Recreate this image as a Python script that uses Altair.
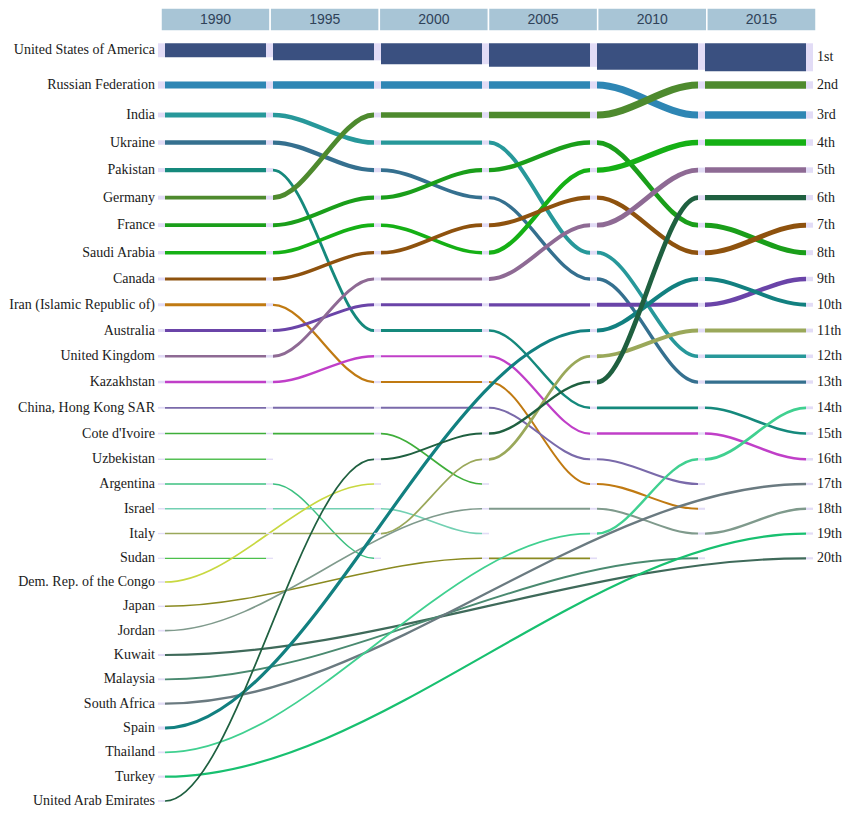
import altair as alt
import pandas as pd

years = ["1990", "1995", "2000", "2005", "2010", "2015"]

rank_1990 = ["United States of America", "Russian Federation", "India", "Ukraine", "Pakistan",
             "Germany", "France", "Saudi Arabia", "Canada", "Iran (Islamic Republic of)",
             "Australia", "United Kingdom", "Kazakhstan", "China, Hong Kong SAR", "Cote d'Ivoire",
             "Uzbekistan", "Argentina", "Israel", "Italy", "Sudan"]
stock_1990 = [23.25, 11.52, 7.49, 6.89, 6.21, 5.94, 5.90, 4.99, 4.33, 4.29,
              3.96, 3.65, 3.62, 2.22, 1.82, 1.65, 1.64, 1.63, 1.43, 1.27]

rank_1995 = ["United States of America", "Russian Federation", "Germany", "India", "Ukraine",
             "France", "Saudi Arabia", "Canada", "United Kingdom", "Australia",
             "Pakistan", "Kazakhstan", "Iran (Islamic Republic of)", "China, Hong Kong SAR", "Cote d'Ivoire",
             "United Arab Emirates", "Dem. Rep. of the Congo", "Israel", "Italy", "Argentina"]
stock_1995 = [28.45, 11.93, 7.46, 6.95, 6.56, 6.09, 5.40, 4.90, 4.25, 4.16,
              4.08, 3.30, 3.00, 2.43, 2.20, 2.10, 2.00, 1.85, 1.70, 1.60]

rank_2000 = ["United States of America", "Russian Federation", "Germany", "India", "France",
             "Ukraine", "Canada", "Saudi Arabia", "United Kingdom", "Australia",
             "Pakistan", "Kazakhstan", "Iran (Islamic Republic of)", "China, Hong Kong SAR", "United Arab Emirates",
             "Italy", "Cote d'Ivoire", "Jordan", "Israel", "Japan"]
stock_2000 = [34.81, 11.90, 8.99, 6.41, 6.28, 5.53, 5.51, 5.26, 4.73, 4.39,
              4.18, 2.87, 2.80, 2.67, 2.45, 2.12, 2.05, 1.93, 1.85, 1.69]

rank_2005 = ["United States of America", "Russian Federation", "Germany", "France", "Saudi Arabia",
             "Canada", "United Kingdom", "India", "Ukraine", "Australia",
             "Spain", "Italy", "United Arab Emirates", "Pakistan", "Kazakhstan",
             "China, Hong Kong SAR", "Iran (Islamic Republic of)", "Jordan", "Thailand", "Japan"]
stock_2005 = [39.26, 11.67, 10.30, 6.74, 6.50, 6.08, 5.93, 5.89, 5.05, 4.75,
              4.60, 3.95, 3.28, 3.25, 2.97, 2.72, 2.57, 2.30, 2.20, 2.00]

rank_2010 = ["United States of America", "Germany", "Russian Federation", "Saudi Arabia", "United Kingdom",
             "United Arab Emirates", "France", "Canada", "Spain", "Australia",
             "Italy", "India", "Ukraine", "Pakistan", "Kazakhstan",
             "Thailand", "China, Hong Kong SAR", "Iran (Islamic Republic of)", "Jordan", "Malaysia"]
stock_2010 = [44.18, 11.61, 11.19, 8.43, 7.60, 7.32, 7.20, 6.76, 6.28, 5.88,
              5.79, 5.44, 4.82, 3.94, 3.33, 3.22, 2.78, 2.76, 2.72, 2.41]

rank_2015 = ["United States of America", "Germany", "Russian Federation", "Saudi Arabia", "United Kingdom",
             "United Arab Emirates", "Canada", "France", "Australia", "Spain",
             "Italy", "India", "Ukraine", "Thailand", "Pakistan",
             "Kazakhstan", "South Africa", "Jordan", "Turkey", "Kuwait"]
stock_2015 = [46.63, 12.01, 11.64, 10.19, 8.54, 8.10, 7.84, 7.78, 6.76, 5.85,
              5.79, 5.21, 4.83, 3.91, 3.63, 3.55, 3.14, 3.11, 2.96, 2.87]

unranked_1990 = ["Dem. Rep. of the Congo", "Japan", "Jordan", "Kuwait", "Malaysia",
                 "South Africa", "Spain", "Thailand", "Turkey", "United Arab Emirates"]

rank_labels = ["1st", "2nd", "3rd", "4th", "5th", "6th", "7th", "8th", "9th", "10th",
               "11th", "12th", "13th", "14th", "15th", "16th", "17th", "18th", "19th", "20th"]

countries = rank_1990 + unranked_1990
colors = ["#3a5080", "#2e86b4", "#27989a", "#35708f", "#15897c",
          "#4e8a2e", "#1a9e1a", "#15b015", "#8e520e", "#c07a12",
          "#6a44a8", "#8e6a94", "#c03fc8", "#7a6aaa", "#3fae3a",
          "#55c055", "#3cc080", "#72d0b2", "#9aa85a", "#4cc04c",
          "#c8d840", "#8a8a20", "#7f9a8c", "#3f6a5a", "#4a8a70",
          "#6a7a80", "#128080", "#40d090", "#18c070", "#1f6040"]

# ---------------------------------------------------------------- build tables
rank_lists = [rank_1990, rank_1995, rank_2000, rank_2005, rank_2010, rank_2015]
stock_lists = [stock_1990, stock_1995, stock_2000, stock_2005, stock_2010, stock_2015]

rank_of = {c: [None] * 6 for c in countries}
val_of = {c: [None] * 6 for c in countries}
for j, (names, vals) in enumerate(zip(rank_lists, stock_lists)):
    for r, (c, v) in enumerate(zip(names, vals), start=1):
        rank_of[c][j] = r
        val_of[c][j] = v
slot = {c: i + 1 for i, c in enumerate(countries)}

US = "United States of America"
D = 0.0324   # half-width of the node markers, in column units
E = 0.002

line_rows, mark_rows = [], []
for c in countries:
    if c == US:
        continue
    rk, vl = rank_of[c], val_of[c]
    f = next(j for j in range(6) if rk[j] is not None)
    segs = [(0, slot[c], f + 1, rk[f], vl[f])]
    j = f + 1
    while j < 6 and rk[j] is not None:
        segs.append((j, rk[j - 1], j + 1, rk[j], vl[j]))
        j += 1
    for k, (xa, ya, xb, yb, w) in enumerate(segs):
        sid = f"{c}|{k}"
        pts = [(xa + D, ya), (xa + D + E, ya), (xb - D - E, yb), (xb - D, yb)]
        for i, (x, y) in enumerate(pts):
            line_rows.append(dict(country=c, seg=sid, i=i, x=x, y=y, w=w))
    mark_rows.append(dict(country=c, x=-D, x2=D, y=slot[c], w=vl[f]))
    for jj in range(f, j):
        mark_rows.append(dict(country=c, x=jj + 1 - D, x2=jj + 1 + D, y=rk[jj], w=vl[jj]))

lines_df = pd.DataFrame(line_rows)
marks_df = pd.DataFrame(mark_rows)

us_vals = val_of[US]
us_bars = pd.DataFrame([dict(x=j + D, x2=j + 1 - D, y0=0.0, y1=v) for j, v in enumerate(us_vals)])
us_marks = pd.DataFrame([dict(x=-D, x2=D, y0=0.0, y1=us_vals[0])] +
                        [dict(x=j + 1 - D, x2=j + 1 + D, y0=0.0, y1=v) for j, v in enumerate(us_vals)])
us_text_left = pd.DataFrame([dict(label=US, ym=us_vals[0] / 2)])
us_text_right = pd.DataFrame([dict(label=rank_labels[0], ym=us_vals[-1] / 2)])

left_df = pd.DataFrame([dict(label=c, y=slot[c]) for c in countries if c != US])
right_df = pd.DataFrame([dict(label=rank_labels[r - 1], y=r) for r in range(2, 21)])
head_df = pd.DataFrame([dict(year=y, x0=i, x1=i + 1, xc=i + 0.5) for i, y in enumerate(years)])

# ---------------------------------------------------------------- scales
xs = alt.Scale(domain=[0, 6], range=[2.5, 650.5], nice=False, zero=False)
xh = alt.Scale(domain=[0, 6], range=[2, 657], nice=False, zero=False)
ys = alt.Scale(domain=[2, 3, 8, 9, 16, 17, 20, 21, 30],
               range=[77, 107, 244.7, 271, 451.3, 476, 550.3, 574, 793], nice=False, zero=False)
yus = alt.Scale(domain=[0, 100], range=[35.3, 95.3], nice=False, zero=False)
ws = alt.Scale(domain=[0, 10], range=[0.5, 6.3], nice=False, zero=False)
cs = alt.Scale(domain=countries, range=colors)

SERIF = "Liberation Serif"
SANS = "Liberation Sans"
LAV = "#e2dcf6"
TXT = "#1a1a1a"
FS = 14
LX = -4      # right edge of the country labels
RX = 658     # left edge of the rank labels

header_rect = alt.Chart(head_df).mark_rect(fill="#a8c5d6", stroke="white", strokeWidth=1.5).encode(
    x=alt.X("x0:Q", scale=xh, axis=None), x2="x1:Q",
    y=alt.value(0), y2=alt.value(23))
header_text = alt.Chart(head_df).mark_text(font=SANS, fontSize=14, color="#2f4259", baseline="middle").encode(
    x=alt.X("xc:Q", scale=xh, axis=None), y=alt.value(11.5), text="year:N")

lines = alt.Chart(lines_df).mark_line(interpolate="monotone", strokeCap="butt").encode(
    x=alt.X("x:Q", scale=xs, axis=None),
    y=alt.Y("y:Q", scale=ys, axis=None),
    detail="seg:N",
    order="i:Q",
    color=alt.Color("country:N", scale=cs, legend=None),
    strokeWidth=alt.StrokeWidth("w:Q", scale=ws, legend=None))

markers = alt.Chart(marks_df).mark_rule(color=LAV).encode(
    x=alt.X("x:Q", scale=xs, axis=None), x2="x2:Q",
    y=alt.Y("y:Q", scale=ys, axis=None),
    strokeWidth=alt.StrokeWidth("w:Q", scale=ws, legend=None))

us_rect = alt.Chart(us_bars).mark_rect(color="#3a5080").encode(
    x=alt.X("x:Q", scale=xs, axis=None), x2="x2:Q",
    y=alt.Y("y0:Q", scale=yus, axis=None), y2="y1:Q")
us_mark = alt.Chart(us_marks).mark_rect(color=LAV).encode(
    x=alt.X("x:Q", scale=xs, axis=None), x2="x2:Q",
    y=alt.Y("y0:Q", scale=yus, axis=None), y2="y1:Q")
us_left = alt.Chart(us_text_left).mark_text(font=SERIF, fontSize=FS, color=TXT,
                                            align="right", baseline="middle").encode(
    x=alt.value(LX), y=alt.Y("ym:Q", scale=yus, axis=None), text="label:N")
us_right = alt.Chart(us_text_right).mark_text(font=SERIF, fontSize=FS, color=TXT,
                                              align="left", baseline="middle").encode(
    x=alt.value(RX), y=alt.Y("ym:Q", scale=yus, axis=None), text="label:N")

left_text = alt.Chart(left_df).mark_text(font=SERIF, fontSize=FS, color=TXT,
                                         align="right", baseline="middle").encode(
    x=alt.value(LX), y=alt.Y("y:Q", scale=ys, axis=None), text="label:N")
right_text = alt.Chart(right_df).mark_text(font=SERIF, fontSize=FS, color=TXT,
                                           align="left", baseline="middle").encode(
    x=alt.value(RX), y=alt.Y("y:Q", scale=ys, axis=None), text="label:N")

chart = alt.layer(
    header_rect, header_text, lines, markers, us_rect, us_mark,
    us_left, us_right, left_text, right_text
).resolve_scale(
    x="independent", y="independent"
).properties(
    width=665, height=800, autosize="none",
    padding={"left": 151, "top": 0, "right": 18, "bottom": 0}
).configure_view(stroke=None)

chart.save("out.html", embed_options={"renderer": "svg", "actions": False})
